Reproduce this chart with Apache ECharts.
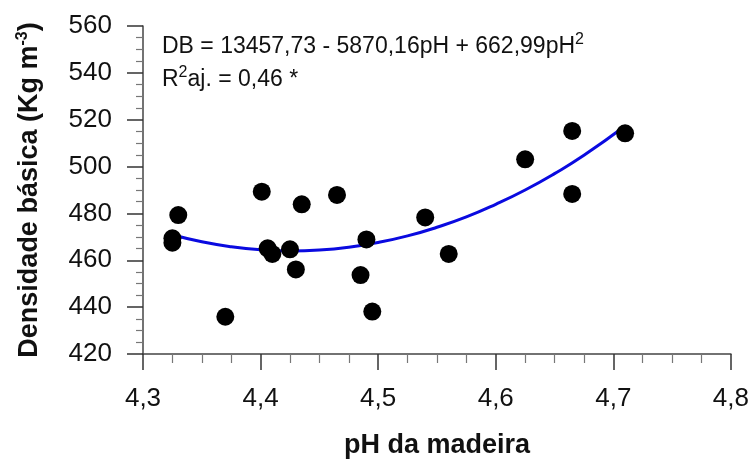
<!DOCTYPE html>
<html>
<head>
<meta charset="utf-8">
<script src="https://cdn.jsdelivr.net/npm/echarts@6/dist/echarts.min.js"></script>
<style>html,body{margin:0;padding:0;background:#fff}#c{width:752px;height:464px}</style>
</head>
<body>
<div id="c"></div>
<script>
var phX = [4.325, 4.325, 4.330, 4.370, 4.401, 4.406, 4.410, 4.425, 4.430, 4.435, 4.465, 4.485, 4.490, 4.495, 4.540, 4.560, 4.625, 4.665, 4.665, 4.710];
var dens = [469.4, 467.5, 479.3, 435.9, 489.3, 465.1, 462.7, 464.7, 456.1, 483.9, 487.9, 453.7, 468.9, 438.1, 478.3, 462.7, 503.1, 515.2, 488.3, 514.2];
var fitX = [4.325, 4.35, 4.375, 4.40, 4.425, 4.45, 4.475, 4.50, 4.525, 4.55, 4.575, 4.60, 4.625, 4.65, 4.675, 4.71];
var fitY = [470.9, 467.9, 465.8, 464.5, 464.0, 464.4, 465.6, 467.6, 470.4, 474.1, 478.5, 483.9, 490.0, 497.0, 504.8, 517.3];
var eqLine1 = 'DB = 13457,73 - 5870,16pH + 662,99pH{sup|2}';
var eqLine2 = 'R{sup|2}aj. = 0,46 *';
var xTitle = 'pH da madeira';
var yTitle = 'Densidade básica (Kg m{sup|-3})';

var FF = "'Liberation Sans', Arial, sans-serif";
var pts = phX.map(function (x, i) { return [x, dens[i]]; });
var fit = fitX.map(function (x, i) { return [x, fitY[i]]; });

var chart = echarts.init(document.getElementById('c'), null, {renderer: 'canvas'});
chart.setOption({
  animation: false,
  backgroundColor: '#fff',
  grid: {left: 143, right: 19, top: 26, bottom: 110},
  xAxis: {
    type: 'value', min: 4.3, max: 4.8, interval: 0.1,
    name: xTitle, nameLocation: 'middle', nameGap: 78,
    nameTextStyle: {fontFamily: FF, fontSize: 27, fontWeight: 'bold', color: '#111'},
    axisLine: {lineStyle: {color: '#444', width: 1.5}},
    axisTick: {show: true, inside: false, length: 16, lineStyle: {color: '#333', width: 1.5}},
    minorTick: {show: true, splitNumber: 4, length: 9, lineStyle: {color: '#777', width: 1.2}},
    splitLine: {show: false},
    axisLabel: {margin: 32, fontFamily: FF, fontSize: 26, color: '#111',
      formatter: function (v) { return v.toFixed(1).replace('.', ','); }}
  },
  yAxis: {
    type: 'value', min: 420, max: 560, interval: 20,
    name: yTitle, nameLocation: 'middle', nameGap: 98,
    nameTextStyle: {fontFamily: FF, fontSize: 27, fontWeight: 'bold', color: '#111',
      rich: {sup: {fontFamily: FF, fontSize: 16, fontWeight: 'bold', color: '#111', verticalAlign: 'top', padding: [0, 0, 14, 0]}}},
    axisLine: {show: true, lineStyle: {color: '#444', width: 1.5}},
    axisTick: {show: true, inside: false, length: 16, lineStyle: {color: '#333', width: 1.5}},
    minorTick: {show: true, splitNumber: 4, length: 7, lineStyle: {color: '#777', width: 1.2}},
    splitLine: {show: false},
    axisLabel: {margin: 31, fontFamily: FF, fontSize: 26, color: '#111'}
  },
  graphic: [
    {type: 'text', left: 162, top: 32, z: 100,
      style: {text: eqLine1, fontFamily: FF, fontSize: 23, fill: '#111',
        rich: {sup: {fontFamily: FF, fontSize: 16, fill: '#111', padding: [0, 0, 14, 0]}}}},
    {type: 'text', left: 162, top: 65, z: 100,
      style: {text: eqLine2, fontFamily: FF, fontSize: 23, fill: '#111',
        rich: {sup: {fontFamily: FF, fontSize: 16, fill: '#111', padding: [0, 0, 14, 0]}}}}
  ],
  series: [
    {type: 'line', data: fit, smooth: true, symbol: 'none', z: 2,
      lineStyle: {color: '#0a0ae0', width: 3}},
    {type: 'scatter', data: pts, symbol: 'circle', symbolSize: 18, z: 3,
      itemStyle: {color: '#000', opacity: 1}}
  ]
});
</script>
</body>
</html>
